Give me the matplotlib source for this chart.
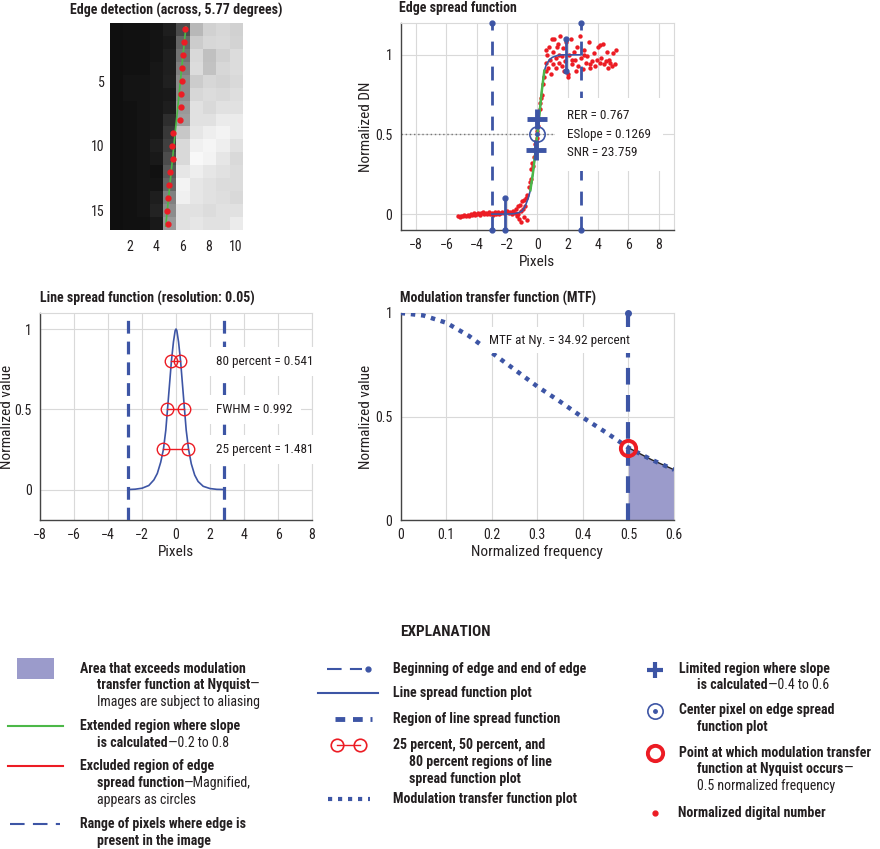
import matplotlib
matplotlib.use('Agg')
import matplotlib.pyplot as plt
import numpy as np
from matplotlib.patches import Rectangle
from matplotlib.lines import Line2D
from matplotlib import font_manager

_names = {f.name for f in font_manager.fontManager.ttflist}
FONTNAME = 'DejaVu Sans'
for cand in ['Roboto Condensed', 'Archivo Narrow', 'Barlow Semi Condensed', 'Asap Condensed',
             'Liberation Sans Narrow', 'Liberation Sans']:
    if cand in _names:
        FONTNAME = cand
        break
plt.rcParams['font.family'] = [FONTNAME, 'DejaVu Sans']
plt.rcParams['axes.unicode_minus'] = True

BLUE = '#3d55a5'
RED = '#ec1c24'
GREEN = '#4cb848'
LAV = '#9b9bcb'
TXT = '#231f20'
GRID = '#d9d9d9'

# ---------------- data ----------------
img_values = [
    [0.06, 0.07, 0.07, 0.08, 0.12, 0.30, 0.72, 0.82, 0.84, 0.82],
    [0.06, 0.07, 0.07, 0.08, 0.10, 0.40, 0.80, 0.84, 0.85, 0.83],
    [0.06, 0.07, 0.07, 0.08, 0.12, 0.45, 0.85, 0.75, 0.82, 0.86],
    [0.06, 0.07, 0.07, 0.09, 0.12, 0.50, 0.86, 0.76, 0.84, 0.86],
    [0.06, 0.08, 0.08, 0.09, 0.13, 0.55, 0.80, 0.84, 0.83, 0.85],
    [0.06, 0.08, 0.08, 0.09, 0.10, 0.55, 0.84, 0.86, 0.85, 0.87],
    [0.06, 0.07, 0.08, 0.09, 0.12, 0.60, 0.88, 0.85, 0.88, 0.88],
    [0.06, 0.07, 0.08, 0.09, 0.18, 0.62, 0.88, 0.88, 0.92, 0.92],
    [0.06, 0.07, 0.08, 0.09, 0.22, 0.78, 0.90, 0.93, 0.95, 0.92],
    [0.06, 0.07, 0.08, 0.12, 0.25, 0.85, 0.94, 0.96, 0.93, 0.88],
    [0.06, 0.07, 0.08, 0.10, 0.30, 0.85, 0.97, 0.95, 0.90, 0.85],
    [0.06, 0.07, 0.08, 0.07, 0.35, 0.90, 0.93, 0.90, 0.88, 0.86],
    [0.06, 0.07, 0.08, 0.08, 0.40, 0.95, 0.90, 0.88, 0.86, 0.86],
    [0.06, 0.07, 0.08, 0.12, 0.50, 0.94, 0.90, 0.88, 0.87, 0.85],
    [0.06, 0.07, 0.08, 0.14, 0.55, 0.88, 0.88, 0.86, 0.88, 0.88],
    [0.06, 0.07, 0.07, 0.10, 0.60, 0.88, 0.90, 0.88, 0.88, 0.92],
]
edge_rows = list(range(1, 17))
edge_cols = [6.19, 6.09, 6.04, 5.98, 5.96, 5.90, 5.86, 5.80, 5.27, 5.17, 5.24, 5.04, 4.96, 4.89, 4.79, 4.86]
edge_fit_rows = [0.8, 16.2]
edge_fit_cols = [6.25, 4.72]

esf_x = [-5.2, -5.1, -5.0, -4.9, -4.8, -4.7, -4.6, -4.5, -4.4, -4.3, -4.2, -4.1, -4.0, -3.9, -3.8, -3.7,
         -3.6, -3.5, -3.4, -3.3, -3.2, -3.1, -3.0, -2.9, -2.8, -2.7, -2.6, -2.5, -2.4, -2.3, -2.2, -2.1,
         -2.0, -1.9, -1.8, -1.7, -1.6, -1.5,
         -1.4, -1.35, -1.3, -1.25, -1.2, -1.15, -1.1, -1.05, -1.0, -0.95, -0.9, -0.85, -0.8, -0.75, -0.7, -0.65,
         -0.55, -0.5, -0.45, -0.4, -0.35, -0.3, -0.25, -0.2, -0.15, -0.1, -0.05, 0.0, 0.05, 0.1, 0.15, 0.2,
         0.25, 0.3, 0.35, 0.45, 0.55, 0.6,
         0.55, 0.65, 0.7, 0.8, 0.85, 0.9, 1.0, 1.05, 1.1, 1.2, 1.25, 1.3, 1.4, 1.45, 1.5, 1.6, 1.7, 1.75,
         1.8, 1.9, 2.0, 2.05, 2.1, 2.2, 2.3, 2.4, 2.5, 2.6, 2.7, 2.8, 2.9, 3.0, 3.1, 3.2, 3.3, 3.4, 3.5,
         3.6, 3.7, 3.8, 3.9, 4.0, 4.1, 4.2, 4.3, 4.4, 4.5, 4.6, 4.7, 4.8, 4.9, 5.0, 5.1, 5.2,
         0.95, 1.35, 2.55, 3.45, 4.15, 4.65, 3.05, 2.25, 1.65]
esf_y = [-0.015, -0.02, -0.01, -0.015, -0.005, -0.01, -0.005, -0.012, 0.0, -0.008, 0.005, -0.003, 0.0, 0.008,
         -0.005, 0.004, 0.01, -0.002, 0.006, 0.0, 0.01, 0.003, 0.008, -0.004, 0.01, 0.002, 0.012, 0.0, 0.008,
         0.015, 0.004, 0.01, 0.018, 0.005, 0.012, 0.0, 0.02, 0.008,
         0.03, -0.01, 0.05, 0.0, -0.03, 0.06, 0.02, -0.05, 0.08, 0.03, -0.02, 0.09, 0.05, 0.10, -0.04, 0.12,
         0.17, 0.20, 0.22, 0.28, 0.32, 0.30, 0.36, 0.40, 0.44, 0.46, 0.48, 0.52, 0.55, 0.60, 0.66, 0.70,
         0.73, 0.75, 0.82, 0.86, 0.90, 0.95,
         1.03, 1.0, 0.92, 1.05, 0.97, 0.88, 1.02, 0.94, 1.10, 0.98, 0.92, 1.05, 1.0, 0.95, 1.12, 0.99, 1.04, 0.90,
         0.96, 1.08, 0.86, 0.88, 1.0, 1.10, 0.94, 1.02, 0.97, 1.05, 0.93, 1.12, 0.98, 0.91, 1.03, 0.95, 0.99, 1.08, 0.94,
         0.96, 1.01, 0.93, 0.97, 1.05, 0.95, 0.98, 1.07, 0.94, 0.96, 1.02, 0.97, 0.95, 0.93, 1.01, 0.94, 1.03,
         1.10, 1.07, 0.90, 0.92, 1.06, 0.92, 1.0, 0.97, 0.93]
esf_fit_x = [-3.0, -2.0, -1.5, -1.2, -1.0, -0.8, -0.6, -0.46, -0.3, -0.15, 0.0, 0.15, 0.3, 0.46, 0.6, 0.8,
             1.0, 1.3, 1.6, 2.0, 2.8]
esf_fit_y = [0.0, 0.0, 0.003, 0.01, 0.02, 0.05, 0.10, 0.15, 0.25, 0.37, 0.50, 0.64, 0.78, 0.90, 0.94, 0.97,
             0.985, 0.995, 1.0, 1.0, 1.0]
ext_slope_range = [0.15, 0.90]
limited_x = [-0.1, 0.0]
limited_y = [0.4, 0.6]
center_x, center_y = 0.0, 0.5
edge_begin, edge_end = -3.0, 2.87
stem_x = [-2.1, 1.88]
stem_y0 = [-0.1, 0.9]
stem_y1 = [0.1, 1.1]
esf_stats = ['RER = 0.767', 'ESlope = 0.1269', 'SNR = 23.759']
stats_x = 1.95

lsf_x = [-2.8, -2.4, -2.0, -1.6, -1.3, -1.1, -0.9, -0.74, -0.6, -0.5, -0.4, -0.27, -0.15, -0.05, 0.0,
         0.05, 0.15, 0.27, 0.4, 0.5, 0.6, 0.74, 0.9, 1.1, 1.3, 1.6, 2.0, 2.4, 2.8]
lsf_y = [0.0, 0.002, 0.008, 0.025, 0.06, 0.10, 0.17, 0.25, 0.37, 0.50, 0.63, 0.80, 0.92, 0.99, 1.0,
         0.99, 0.92, 0.80, 0.63, 0.50, 0.37, 0.25, 0.16, 0.09, 0.05, 0.02, 0.006, 0.001, 0.0]
lsf_region = [-2.85, 2.8]
lsf_levels = [0.8, 0.5, 0.25]
lsf_left = [-0.29, -0.53, -0.76]
lsf_right = [0.25, 0.46, 0.72]
lsf_labels = ['80 percent = 0.541', 'FWHM = 0.992', '25 percent = 1.481']

mtf_f = [0.0, 0.05, 0.1, 0.15, 0.2, 0.25, 0.3, 0.35, 0.4, 0.45, 0.5, 0.55, 0.6]
mtf_v = [1.0, 0.988, 0.953, 0.889, 0.808, 0.727, 0.645, 0.572, 0.495, 0.424, 0.349, 0.292, 0.243]
nyquist = 0.5
mtf_nyq = 0.3492

W, H = 880, 849
fig = plt.figure(figsize=(W / 100, H / 100), dpi=100)


def rect(l, t, r, b):
    return [l / W, 1 - b / H, (r - l) / W, (b - t) / H]


TICK_FS = 10
ANN_FS = 9.5
LAB_FS = 11
TITLE_FS = 10


def style_axes(ax):
    ax.grid(True, color=GRID, lw=0.8, zorder=0)
    ax.set_axisbelow(True)
    for s in ['left', 'bottom']:
        ax.spines[s].set_color('#444444')
        ax.spines[s].set_linewidth(1.0)
    for s in ['top', 'right']:
        ax.spines[s].set_color(GRID)
        ax.spines[s].set_linewidth(0.8)
    ax.tick_params(length=0, labelsize=TICK_FS, colors=TXT, pad=6)


# ---------------- image ----------------
ax1 = fig.add_axes(rect(110, 23, 242, 230))
ax1.imshow(np.array(img_values), cmap='gray', vmin=0, vmax=1, extent=(0.5, 10.5, 16.5, 0.5),
           interpolation='nearest', aspect='auto')
ax1.plot(edge_fit_cols, edge_fit_rows, color=GREEN, lw=1.2)
ax1.plot(edge_cols, edge_rows, 'o', color=RED, ms=3.5)
ax1.set_xlim(0.5, 10.5)
ax1.set_ylim(16.5, 0.5)
ax1.set_xticks([2, 4, 6, 8, 10])
ax1.set_yticks([5, 10, 15])
for s in ax1.spines.values():
    s.set_visible(False)
ax1.tick_params(axis='y', length=0, labelsize=TICK_FS, colors=TXT, pad=4)
ax1.tick_params(axis='x', length=0, labelsize=TICK_FS, colors=TXT, pad=7)
fig.text(176 / W, 1 - 10 / H, 'Edge detection (across, 5.77 degrees)', ha='center', va='center',
         fontsize=TITLE_FS, fontweight='bold', color=TXT)

# ---------------- ESF ----------------
ax2 = fig.add_axes(rect(400.7, 23, 674, 230))
style_axes(ax2)
ax2.set_xlim(-9, 9)
ax2.set_ylim(-0.1, 1.2)
ax2.set_xticks(range(-8, 9, 2))
ax2.set_yticks([0, 0.5, 1])
ax2.set_yticklabels(['0', '0.5', '1'])
ax2.plot([-9, stats_x], [center_y, center_y], color='#777777', ls=(0, (1, 2)), lw=1, zorder=1)
ax2.scatter(esf_x, esf_y, s=10, color=RED, zorder=3, linewidths=0)
fx = np.array(esf_fit_x)
fy = np.array(esf_fit_y)
ax2.plot(fx, fy, color=BLUE, lw=1.2, zorder=4)
m = (fy >= ext_slope_range[0]) & (fy <= ext_slope_range[1])
ax2.plot(fx[m], fy[m], color=GREEN, lw=1.8, zorder=5)
for xv in [edge_begin, edge_end]:
    ax2.plot([xv, xv], [-0.1, 1.2], color=BLUE, lw=2, ls=(0, (5, 4)), zorder=4, clip_on=False)
    ax2.plot([xv, xv], [-0.1, 1.2], 'o', color=BLUE, ms=3.5, zorder=4, clip_on=False)
for xs, a, b in zip(stem_x, stem_y0, stem_y1):
    ax2.plot([xs, xs], [a, b], color=BLUE, lw=2, marker='o', ms=3.5, zorder=4, clip_on=False)
ax2.plot(limited_x, limited_y, '+', color=BLUE, ms=14, mew=3.5, zorder=6)
ax2.plot(center_x, center_y, 'o', mfc='none', mec=BLUE, ms=11, mew=1.2, zorder=6)
ax2.plot(center_x, center_y, 'o', color=BLUE, ms=2.5, zorder=6)
ax2.text(stats_x, 0.5, '\n'.join(esf_stats), fontsize=ANN_FS, color=TXT, va='center', ha='left', zorder=7,
         linespacing=1.55, bbox=dict(boxstyle='square,pad=0.9', fc='white', ec='none'))
ax2.set_xlabel('Pixels', fontsize=LAB_FS, color=TXT)
ax2.set_ylabel('Normalized DN', fontsize=LAB_FS, color=TXT)
ax2.xaxis.set_label_coords(0.5, -0.12)
ax2.yaxis.set_label_coords(-0.101, 0.5)
fig.text(399 / W, 1 - 8 / H, 'Edge spread function', ha='left', va='center',
         fontsize=TITLE_FS, fontweight='bold', color=TXT)

# ---------------- LSF ----------------
ax3 = fig.add_axes(rect(40, 313, 312, 520))
style_axes(ax3)
ax3.set_xlim(-8, 8)
ax3.set_ylim(-0.19, 1.1)
ax3.set_xticks(range(-8, 9, 2))
ax3.set_yticks([0, 0.5, 1])
ax3.set_yticklabels(['0', '0.5', '1'])
ax3.plot(lsf_x, lsf_y, color=BLUE, lw=1.2, zorder=3)
for xv in lsf_region:
    ax3.plot([xv, xv], [-0.19, 1.1], color=BLUE, lw=2.3, ls=(0, (4, 2.5)), zorder=3)
for lv, a, b in zip(lsf_levels, lsf_left, lsf_right):
    ax3.plot([a, b], [lv, lv], color=RED, lw=1, marker='o', mfc='none', mec=RED, ms=9, mew=1, zorder=4)
for lv, s in zip(lsf_levels, lsf_labels):
    ax3.text(2.37, lv, s, fontsize=ANN_FS, color=TXT, va='center', ha='left', zorder=7,
             bbox=dict(boxstyle='square,pad=0.6', fc='white', ec='none'))
ax3.set_xlabel('Pixels', fontsize=LAB_FS, color=TXT)
ax3.set_ylabel('Normalized value', fontsize=LAB_FS, color=TXT)
ax3.xaxis.set_label_coords(0.5, -0.12)
ax3.yaxis.set_label_coords(-0.096, 0.5)
fig.text(40 / W, 1 - 298 / H, 'Line spread function (resolution: 0.05)', ha='left', va='center',
         fontsize=TITLE_FS, fontweight='bold', color=TXT)

# ---------------- MTF ----------------
ax4 = fig.add_axes(rect(400.7, 313, 674, 520))
style_axes(ax4)
ax4.set_xlim(0, 0.6)
ax4.set_ylim(0, 1)
ax4.set_xticks([0, 0.1, 0.2, 0.3, 0.4, 0.5, 0.6])
ax4.set_xticklabels(['0', '0.1', '0.2', '0.3', '0.4', '0.5', '0.6'])
ax4.set_yticks([0, 0.5, 1])
ax4.set_yticklabels(['0', '0.5', '1'])
mf = np.array(mtf_f)
mv = np.array(mtf_v)
sel = mf >= nyquist
ax4.fill_between(mf[sel], 0, mv[sel], color=LAV, lw=0, zorder=2)
ax4.plot(mf[sel], mv[sel], color='#222222', lw=1, zorder=3)
ax4.plot(mf, mv, color=BLUE, lw=3.2, ls=(0, (1, 1.3)), zorder=4)
ax4.plot([nyquist, nyquist], [0, 1], color=BLUE, lw=3, ls=(0, (4, 2.5)), zorder=5, clip_on=False)
ax4.plot(nyquist, 1, 'o', color=BLUE, ms=4, zorder=5, clip_on=False)
ax4.plot(nyquist, mtf_nyq, 'o', mfc='none', mec=RED, ms=11, mew=2.8, zorder=6)
ax4.text(0.194, 0.868, 'MTF at Ny. = 34.92 percent', fontsize=ANN_FS, color=TXT, va='center',
         ha='left', zorder=7, bbox=dict(boxstyle='square,pad=0.5', fc='white', ec='none'))
ax4.set_xlabel('Normalized frequency', fontsize=LAB_FS, color=TXT)
ax4.set_ylabel('Normalized value', fontsize=LAB_FS, color=TXT)
ax4.xaxis.set_label_coords(0.5, -0.12)
ax4.yaxis.set_label_coords(-0.101, 0.5)
fig.text(400 / W, 1 - 298 / H, 'Modulation transfer function (MTF)', ha='left', va='center',
         fontsize=TITLE_FS, fontweight='bold', color=TXT)

# ---------------- Explanation ----------------
LEG_FS = 10
renderer = fig.canvas.get_renderer()


def fx_(x):
    return x / W


def fy_(y):
    return 1 - y / H


def seg_text(x, y, parts, fs=LEG_FS):
    cx = x
    for s, w in parts:
        t = fig.text(fx_(cx), fy_(y), s, fontsize=fs, fontweight=w, color=TXT, ha='left', va='center')
        bb = t.get_window_extent(renderer=renderer)
        cx += bb.width


def hline(x0, x1, y, **kw):
    fig.add_artist(Line2D([fx_(x0), fx_(x1)], [fy_(y), fy_(y)], transform=fig.transFigure, **kw))


def marker(x, y, **kw):
    fig.add_artist(Line2D([fx_(x)], [fy_(y)], transform=fig.transFigure, **kw))


fig.text(fx_(445), fy_(632), 'EXPLANATION', fontsize=11, fontweight='bold', color=TXT,
         ha='center', va='center')

# column 1
fig.add_artist(Rectangle((fx_(17), fy_(679)), 37 / W, 21 / H, transform=fig.transFigure,
                         fc=LAV, ec='none'))
seg_text(80, 669, [('Area that exceeds modulation', 'bold')])
seg_text(97, 685, [('transfer function at Nyquist', 'bold'), ('—', 'normal')])
seg_text(97, 702, [('Images are subject to aliasing', 'normal')])
hline(8, 63, 726, color=GREEN, lw=1.5)
seg_text(80, 726, [('Extended region where slope', 'bold')])
seg_text(97, 743, [('is calculated', 'bold'), ('—0.2 to 0.8', 'normal')])
hline(8, 63, 766, color=RED, lw=1.5)
seg_text(80, 766, [('Excluded region of edge', 'bold')])
seg_text(97, 783, [('spread function', 'bold'), ('—Magnified,', 'normal')])
seg_text(97, 800, [('appears as circles', 'normal')])
hline(10, 60, 824, color=BLUE, lw=1.5, ls=(0, (7, 4)))
seg_text(80, 824, [('Range of pixels where edge is', 'bold')])
seg_text(97, 841, [('present in the image', 'bold')])

# column 2
hline(327, 362, 669, color=BLUE, lw=1.5, ls=(0, (7, 4)))
marker(368, 669, marker='o', color=BLUE, ms=3.5)
seg_text(393, 669, [('Beginning of edge and end of edge', 'bold')])
hline(318, 378, 693, color=BLUE, lw=1.5)
seg_text(393, 693, [('Line spread function plot', 'bold')])
hline(335, 372, 719, color=BLUE, lw=3.5, ls=(0, (2.0, 1.6)))
seg_text(393, 719, [('Region of line spread function', 'bold')])
fig.add_artist(Line2D([fx_(337), fx_(360)], [fy_(745), fy_(745)], transform=fig.transFigure,
                      color=RED, lw=1, marker='o', mfc='none', mec=RED, ms=9, mew=1.2))
seg_text(393, 745, [('25 percent, 50 percent, and', 'bold')])
seg_text(409, 762, [('80 percent regions of line', 'bold')])
seg_text(409, 779, [('spread function plot', 'bold')])
hline(328, 370, 799, color=BLUE, lw=3, ls=(0, (1, 1.4)))
seg_text(393, 799, [('Modulation transfer function plot', 'bold')])

# column 3
marker(655, 670, marker='+', color=BLUE, ms=11, mew=3)
seg_text(679, 669, [('Limited region where slope', 'bold')])
seg_text(697, 685, [('is calculated', 'bold'), ('—0.4 to 0.6', 'normal')])
marker(655, 711, marker='o', mfc='none', mec=BLUE, ms=11, mew=1.2)
marker(655, 711, marker='o', color=BLUE, ms=2.5)
seg_text(679, 710, [('Center pixel on edge spread', 'bold')])
seg_text(697, 727, [('function plot', 'bold')])
marker(655, 753, marker='o', mfc='none', mec=RED, ms=11, mew=2.8)
seg_text(679, 753, [('Point at which modulation transfer', 'bold')])
seg_text(697, 769, [('function at Nyquist occurs', 'bold'), ('—', 'normal')])
seg_text(697, 786, [('0.5 normalized frequency', 'normal')])
marker(655, 813, marker='o', color=RED, ms=3.5)
seg_text(678, 813, [('Normalized digital number', 'bold')])

fig.savefig('out.png', dpi=100, facecolor='white')
